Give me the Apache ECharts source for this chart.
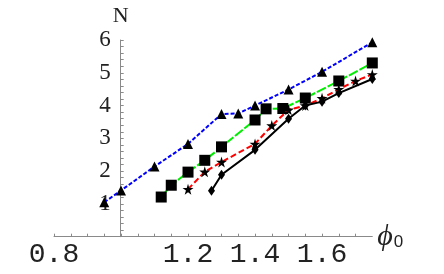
<!DOCTYPE html>
<html><head><meta charset="utf-8">
<script src="https://cdn.jsdelivr.net/npm/echarts@6/dist/echarts.min.js"></script>
<style>html,body{margin:0;padding:0;background:#fff}#c{width:444px;height:274px}</style>
</head><body><div id="c"></div>
<script>
var xTickLabels = ['0.8', '1.2', '1.4', '1.6'];
var yTickLabels = ['1', '2', '3', '4', '5', '6'];

var blueX = [0.95, 1.0, 1.1, 1.2, 1.3, 1.35, 1.4, 1.5, 1.6, 1.75];
var blueY = [1.05, 1.41, 2.14, 2.83, 3.74, 3.76, 4.0, 4.49, 5.03, 5.93];

var greenX = [1.12, 1.15, 1.2, 1.25, 1.3, 1.4, 1.433, 1.483, 1.55, 1.65, 1.75];
var greenY = [1.21, 1.57, 1.97, 2.33, 2.74, 3.56, 3.9, 3.91, 4.23, 4.75, 5.3];

var redX = [1.2, 1.25, 1.3, 1.4, 1.45, 1.5, 1.55, 1.6, 1.65, 1.7, 1.75];
var redY = [1.45, 1.98, 2.28, 2.83, 3.39, 3.87, 4.0, 4.22, 4.5, 4.75, 4.95];

var blackX = [1.27, 1.3, 1.4, 1.5, 1.55, 1.6, 1.65, 1.75];
var blackY = [1.40, 1.89, 2.65, 3.6, 4.0, 4.12, 4.38, 4.81];

function zip(xs, ys) { return xs.map(function (x, i) { return [x, ys[i]]; }); }

var starPath = 'path://M50,0 L61,35 L98,35 L68,57 L79,91 L50,70 L21,91 L32,57 L2,35 L39,35 Z';

var chart = echarts.init(document.getElementById('c'), null, {renderer: 'canvas'});
chart.setOption({
  animation: false,
  backgroundColor: '#ffffff',
  grid: {left: 54, right: 71.7, top: 40, bottom: 37.3, containLabel: false},
  xAxis: {
    type: 'value', min: 0.8, max: 1.75, interval: 0.05,
    axisLine: {onZero: false, lineStyle: {color: '#8a8a8a', width: 1}},
    axisTick: {inside: true, length: 3, lineStyle: {color: '#8a8a8a'}},
    splitLine: {show: false},
    axisLabel: {
      margin: 4, fontFamily: 'Liberation Mono', fontSize: 28, color: '#222',
      showMaxLabel: false,
      formatter: function (v) {
        var s = v.toFixed(1);
        if (Math.abs(v - parseFloat(s)) > 1e-6) return '';
        return xTickLabels.indexOf(s) >= 0 ? s : '';
      }
    },
    name: '{phi|ϕ}{sub|0}', nameLocation: 'end', nameGap: 5,
    nameTextStyle: {
      rich: {
        phi: {fontFamily: 'Liberation Serif', fontStyle: 'italic', fontSize: 30, color: '#222', verticalAlign: 'bottom'},
        sub: {fontFamily: 'Liberation Sans', fontSize: 17, color: '#222', padding: [12, 0, 0, 1]}
      }
    }
  },
  yAxis: {
    type: 'value', min: 0, max: 6, interval: 0.2, offset: -66.7,
    axisLine: {show: true, lineStyle: {color: '#8a8a8a', width: 1}},
    axisTick: {inside: true, length: 3, lineStyle: {color: '#8a8a8a'}},
    splitLine: {show: false},
    axisLabel: {
      margin: 10, fontFamily: 'Liberation Serif', fontSize: 23, color: '#222',
      formatter: function (v) {
        var s = String(Math.round(v));
        if (Math.abs(v - Math.round(v)) > 1e-6) return '';
        return yTickLabels.indexOf(s) >= 0 ? s : '';
      }
    },
    name: 'N', nameLocation: 'end', nameGap: 13,
    nameTextStyle: {fontFamily: 'Liberation Serif', fontSize: 22, color: '#222'}
  },
  series: [
    {type: 'line', data: zip(blueX, blueY), symbol: 'triangle', symbolSize: 10,
     itemStyle: {color: '#000'}, lineStyle: {color: '#0000ff', width: 2, type: [4, 2]}, z: 2},
    {type: 'line', data: zip(greenX, greenY), symbol: 'rect', symbolSize: 11,
     itemStyle: {color: '#000'}, lineStyle: {color: '#00ee00', width: 2, type: [10, 2]}, z: 3},
    {type: 'line', data: zip(redX, redY), symbol: starPath, symbolSize: 11,
     itemStyle: {color: '#000'}, lineStyle: {color: '#ff0000', width: 2, type: [6, 3]}, z: 4},
    {type: 'line', data: zip(blackX, blackY), symbol: 'diamond', symbolSize: [7, 10],
     itemStyle: {color: '#000'}, lineStyle: {color: '#000000', width: 2, type: 'solid'}, z: 5}
  ]
});
</script></body></html>
